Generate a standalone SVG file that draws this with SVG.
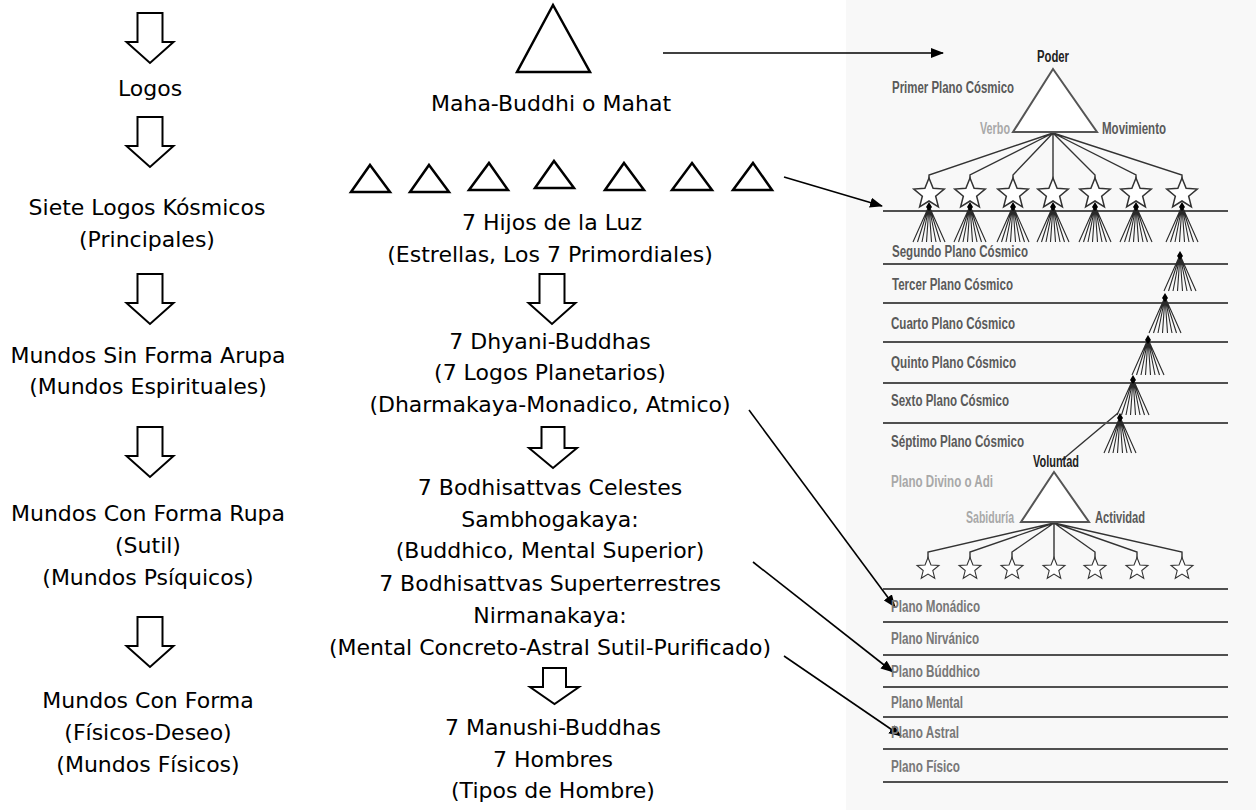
<svg xmlns="http://www.w3.org/2000/svg" xmlns:xlink="http://www.w3.org/1999/xlink" width="1256" height="810" viewBox="0 0 1256 810">
<style>
.t{font-family:"DejaVu Sans","Liberation Sans",sans-serif;font-size:22px;fill:#000;text-anchor:middle}
.r{font-family:"Liberation Sans Narrow","Liberation Sans",Arial,sans-serif;font-size:16px;font-weight:bold}
.c{fill:#5a5a5a}
.p{fill:#777}
.lg{fill:#a8a8a8}
.dk{fill:#222}
.blk{fill:#fff;stroke:#000;stroke-width:2;stroke-linejoin:miter}
.tri{fill:#fff;stroke:#000;stroke-width:2.5;stroke-linejoin:miter}
.hl{stroke:#505050;stroke-width:2}
.ln{stroke:#333;stroke-width:1.4;fill:none}
.fan{stroke:#2a2a2a;stroke-width:1.1;fill:none}
.arr{stroke:#000;stroke-width:1.6;fill:none;marker-end:url(#ah)}
</style>
<defs>
<marker id="ah" viewBox="0 0 13 10" refX="12" refY="5" markerWidth="13" markerHeight="10" markerUnits="userSpaceOnUse" orient="auto">
<path d="M0,0 L13,5 L0,10 Z" fill="#000"/>
</marker>
<path id="barrow" d="M-12.5,0 H12.5 V29 H23.5 L0,50 L-23.5,29 H-12.5 Z"/>
<path id="star" d="M0,-16 L4.11,-5.66 L15.22,-4.94 L6.66,2.16 L9.4,12.94 L0,7 L-9.4,12.94 L-6.66,2.16 L-15.22,-4.94 L-4.11,-5.66 Z" fill="#fff" stroke="#333" stroke-width="1.5"/>
<g id="fan">
<path class="fan" d="M0,0 L-16,36 M0,0 L-11.5,36 M0,0 L-7,36 M0,0 L-2.5,36 M0,0 L2.5,36 M0,0 L7,36 M0,0 L11.5,36 M0,0 L16,36"/>
<path d="M0,-4 L3,1 L0,5 L-3,1 Z" fill="#000"/>
</g>
</defs>

<rect x="846" y="0" width="410" height="810" fill="#f8f8f8"/>

<g id="connectors">
<g id="left-arrows">
<use xlink:href="#barrow" class="blk" x="150" y="13"/>
<use xlink:href="#barrow" class="blk" x="150" y="117"/>
<use xlink:href="#barrow" class="blk" x="150" y="274"/>
<use xlink:href="#barrow" class="blk" x="150" y="427"/>
<use xlink:href="#barrow" class="blk" x="150" y="617"/>
</g>
<g id="mid-arrows">
<use xlink:href="#barrow" class="blk" x="552" y="274"/>
<path class="blk" d="M541.5,427 H564.5 V448 H577 L553,468 L529,448 H541.5 Z"/>
<path class="blk" d="M543,668 H566 V687 H579 L554.5,704 L530,687 H543 Z"/>
</g>
<g id="pointer-arrows">
<line class="arr" x1="663" y1="53" x2="943" y2="53"/>
<line class="arr" x1="784" y1="177" x2="882" y2="206"/>
<line class="arr" x1="749" y1="410" x2="895" y2="607"/>
<line class="arr" x1="753" y1="562" x2="893" y2="672"/>
<line class="arr" x1="784" y1="656" x2="901" y2="736"/>
</g>
<g id="chart-links">
<path class="ln" d="M1053,133 L929,175 V180 M1053,133 L970,175 V180 M1053,133 L1013,175 V180 M1053,133 V180 M1053,133 L1095,175 V180 M1053,133 L1136,175 V180 M1053,133 L1182,175 V180"/>
<path class="ln" d="M1054,523 L928,552 V558 M1054,523 L970,552 V558 M1054,523 L1012,552 V558 M1054,523 V558 M1054,523 L1095,552 V558 M1054,523 L1137,552 V558 M1054,523 L1182,552 V558"/>
<line class="ln" x1="1118" y1="413" x2="1062" y2="460"/>
</g>
</g>

<g id="left-column">
<g id="n-logos"><text class="t" x="150" y="96">Logos</text></g>
<g id="n-siete"><text class="t" x="147" y="215">Siete Logos Kósmicos</text><text class="t" x="147" y="247">(Principales)</text></g>
<g id="n-arupa"><text class="t" x="148" y="363">Mundos Sin Forma Arupa</text><text class="t" x="148" y="394">(Mundos Espirituales)</text></g>
<g id="n-rupa"><text class="t" x="148" y="521">Mundos Con Forma Rupa</text><text class="t" x="148" y="553">(Sutil)</text><text class="t" x="148" y="585">(Mundos Psíquicos)</text></g>
<g id="n-forma"><text class="t" x="148" y="708">Mundos Con Forma</text><text class="t" x="148" y="740">(Físicos-Deseo)</text><text class="t" x="148" y="772">(Mundos Físicos)</text></g>
</g>

<g id="middle-column">
<g id="n-mahat">
<path class="tri" d="M553,5 L590,72 L517,72 Z"/>
<text class="t" x="551" y="111">Maha-Buddhi o Mahat</text>
</g>
<g id="n-hijos">
<path class="tri" d="M370,165 L390,192 L351,192 Z"/>
<path class="tri" d="M429,165 L449,192 L410,192 Z"/>
<path class="tri" d="M489,163 L508,190 L469,190 Z"/>
<path class="tri" d="M554,161 L574,188 L535,188 Z"/>
<path class="tri" d="M624,163 L644,190 L605,190 Z"/>
<path class="tri" d="M692,163 L712,190 L672,190 Z"/>
<path class="tri" d="M753,163 L772,190 L733,190 Z"/>
<text class="t" x="552" y="230">7 Hijos de la Luz</text>
<text class="t" x="550" y="262">(Estrellas, Los 7 Primordiales)</text>
</g>
<g id="n-dhyani">
<text class="t" x="550" y="349">7 Dhyani-Buddhas</text>
<text class="t" x="550" y="380">(7 Logos Planetarios)</text>
<text class="t" x="550" y="412">(Dharmakaya-Monadico, Atmico)</text>
</g>
<g id="n-bodhisattvas">
<text class="t" x="550" y="495">7 Bodhisattvas Celestes</text>
<text class="t" x="550" y="527">Sambhogakaya:</text>
<text class="t" x="550" y="558">(Buddhico, Mental Superior)</text>
<text class="t" x="550" y="591">7 Bodhisattvas Superterrestres</text>
<text class="t" x="550" y="623">Nirmanakaya:</text>
<text class="t" x="550" y="655">(Mental Concreto-Astral Sutil-Purificado)</text>
</g>
<g id="n-manushi">
<text class="t" x="553" y="735">7 Manushi-Buddhas</text>
<text class="t" x="553" y="767">7 Hombres</text>
<text class="t" x="553" y="798">(Tipos de Hombre)</text>
</g>
</g>

<g id="chart">
<g id="chart-lines">
<line class="hl" x1="883" y1="211" x2="1228" y2="211"/>
<line class="hl" x1="883" y1="264" x2="1228" y2="264"/>
<line class="hl" x1="883" y1="303" x2="1228" y2="303"/>
<line class="hl" x1="883" y1="342" x2="1228" y2="342"/>
<line class="hl" x1="883" y1="383" x2="1228" y2="383"/>
<line class="hl" x1="883" y1="423" x2="1228" y2="423"/>
<line class="hl" x1="883" y1="589" x2="1228" y2="589"/>
<line class="hl" x1="883" y1="622" x2="1228" y2="622"/>
<line class="hl" x1="883" y1="655" x2="1228" y2="655"/>
<line class="hl" x1="883" y1="687" x2="1228" y2="687"/>
<line class="hl" x1="883" y1="717" x2="1228" y2="717"/>
<line class="hl" x1="883" y1="749" x2="1228" y2="749"/>
<line class="hl" x1="883" y1="782" x2="1228" y2="782"/>
</g>
<g id="fans">
<use xlink:href="#fan" x="929" y="206"/>
<use xlink:href="#fan" x="970" y="206"/>
<use xlink:href="#fan" x="1013" y="206"/>
<use xlink:href="#fan" x="1053" y="206"/>
<use xlink:href="#fan" x="1095" y="206"/>
<use xlink:href="#fan" x="1136" y="206"/>
<use xlink:href="#fan" x="1182" y="206"/>
<use xlink:href="#fan" x="1180" y="255"/>
<use xlink:href="#fan" x="1165" y="297"/>
<use xlink:href="#fan" x="1148" y="339"/>
<use xlink:href="#fan" x="1133" y="379"/>
<use xlink:href="#fan" x="1120" y="417"/>
</g>
<g id="n-primer">
<path d="M1053,69 L1097,132 L1013,132 Z" fill="#fff" stroke="#555" stroke-width="2"/>
<text class="r dk" x="1053" y="62" text-anchor="middle" textLength="32" lengthAdjust="spacingAndGlyphs">Poder</text>
<text class="r c" x="892" y="93" textLength="122" lengthAdjust="spacingAndGlyphs">Primer Plano Cósmico</text>
<text class="r lg" x="1010" y="134" text-anchor="end" textLength="30" lengthAdjust="spacingAndGlyphs">Verbo</text>
<text class="r c" x="1102" y="134" textLength="64" lengthAdjust="spacingAndGlyphs">Movimiento</text>
</g>
<g id="big-stars">
<use xlink:href="#star" x="929" y="194"/>
<use xlink:href="#star" x="970" y="194"/>
<use xlink:href="#star" x="1013" y="194"/>
<use xlink:href="#star" x="1053" y="194"/>
<use xlink:href="#star" x="1095" y="194"/>
<use xlink:href="#star" x="1136" y="194"/>
<use xlink:href="#star" x="1182" y="194"/>
</g>
<g id="cosmic-labels">
<text class="r c" x="892" y="257" textLength="136" lengthAdjust="spacingAndGlyphs">Segundo Plano Cósmico</text>
<text class="r c" x="892" y="290" textLength="121" lengthAdjust="spacingAndGlyphs">Tercer Plano Cósmico</text>
<text class="r c" x="891" y="329" textLength="124" lengthAdjust="spacingAndGlyphs">Cuarto Plano Cósmico</text>
<text class="r c" x="891" y="368" textLength="125" lengthAdjust="spacingAndGlyphs">Quinto Plano Cósmico</text>
<text class="r c" x="891" y="406" textLength="118" lengthAdjust="spacingAndGlyphs">Sexto Plano Cósmico</text>
<text class="r c" x="891" y="447" textLength="133" lengthAdjust="spacingAndGlyphs">Séptimo Plano Cósmico</text>
</g>
<g id="n-divino">
<path d="M1054,472 L1089,522 L1021,522 Z" fill="#fff" stroke="#555" stroke-width="2"/>
<text class="r dk" x="1056" y="467" text-anchor="middle" textLength="46" lengthAdjust="spacingAndGlyphs">Voluntad</text>
<text class="r lg" x="891" y="487" textLength="102" lengthAdjust="spacingAndGlyphs">Plano Divino o Adi</text>
<text class="r lg" x="1014" y="523" text-anchor="end" textLength="48" lengthAdjust="spacingAndGlyphs">Sabiduría</text>
<text class="r c" x="1095" y="523" textLength="50" lengthAdjust="spacingAndGlyphs">Actividad</text>
</g>
<g id="small-stars">
<use xlink:href="#star" transform="translate(928,569) scale(0.72)"/>
<use xlink:href="#star" transform="translate(970,569) scale(0.72)"/>
<use xlink:href="#star" transform="translate(1012,569) scale(0.72)"/>
<use xlink:href="#star" transform="translate(1054,569) scale(0.72)"/>
<use xlink:href="#star" transform="translate(1095,569) scale(0.72)"/>
<use xlink:href="#star" transform="translate(1137,569) scale(0.72)"/>
<use xlink:href="#star" transform="translate(1182,569) scale(0.72)"/>
</g>
<g id="plane-labels">
<text class="r p" x="891" y="612" textLength="89" lengthAdjust="spacingAndGlyphs">Plano Monádico</text>
<text class="r p" x="891" y="644" textLength="88" lengthAdjust="spacingAndGlyphs">Plano Nirvánico</text>
<text class="r p" x="891" y="677" textLength="89" lengthAdjust="spacingAndGlyphs">Plano Búddhico</text>
<text class="r p" x="891" y="708" textLength="72" lengthAdjust="spacingAndGlyphs">Plano Mental</text>
<text class="r p" x="891" y="738" textLength="68" lengthAdjust="spacingAndGlyphs">Plano Astral</text>
<text class="r p" x="891" y="772" textLength="69" lengthAdjust="spacingAndGlyphs">Plano Físico</text>
</g>
</g>
</svg>
